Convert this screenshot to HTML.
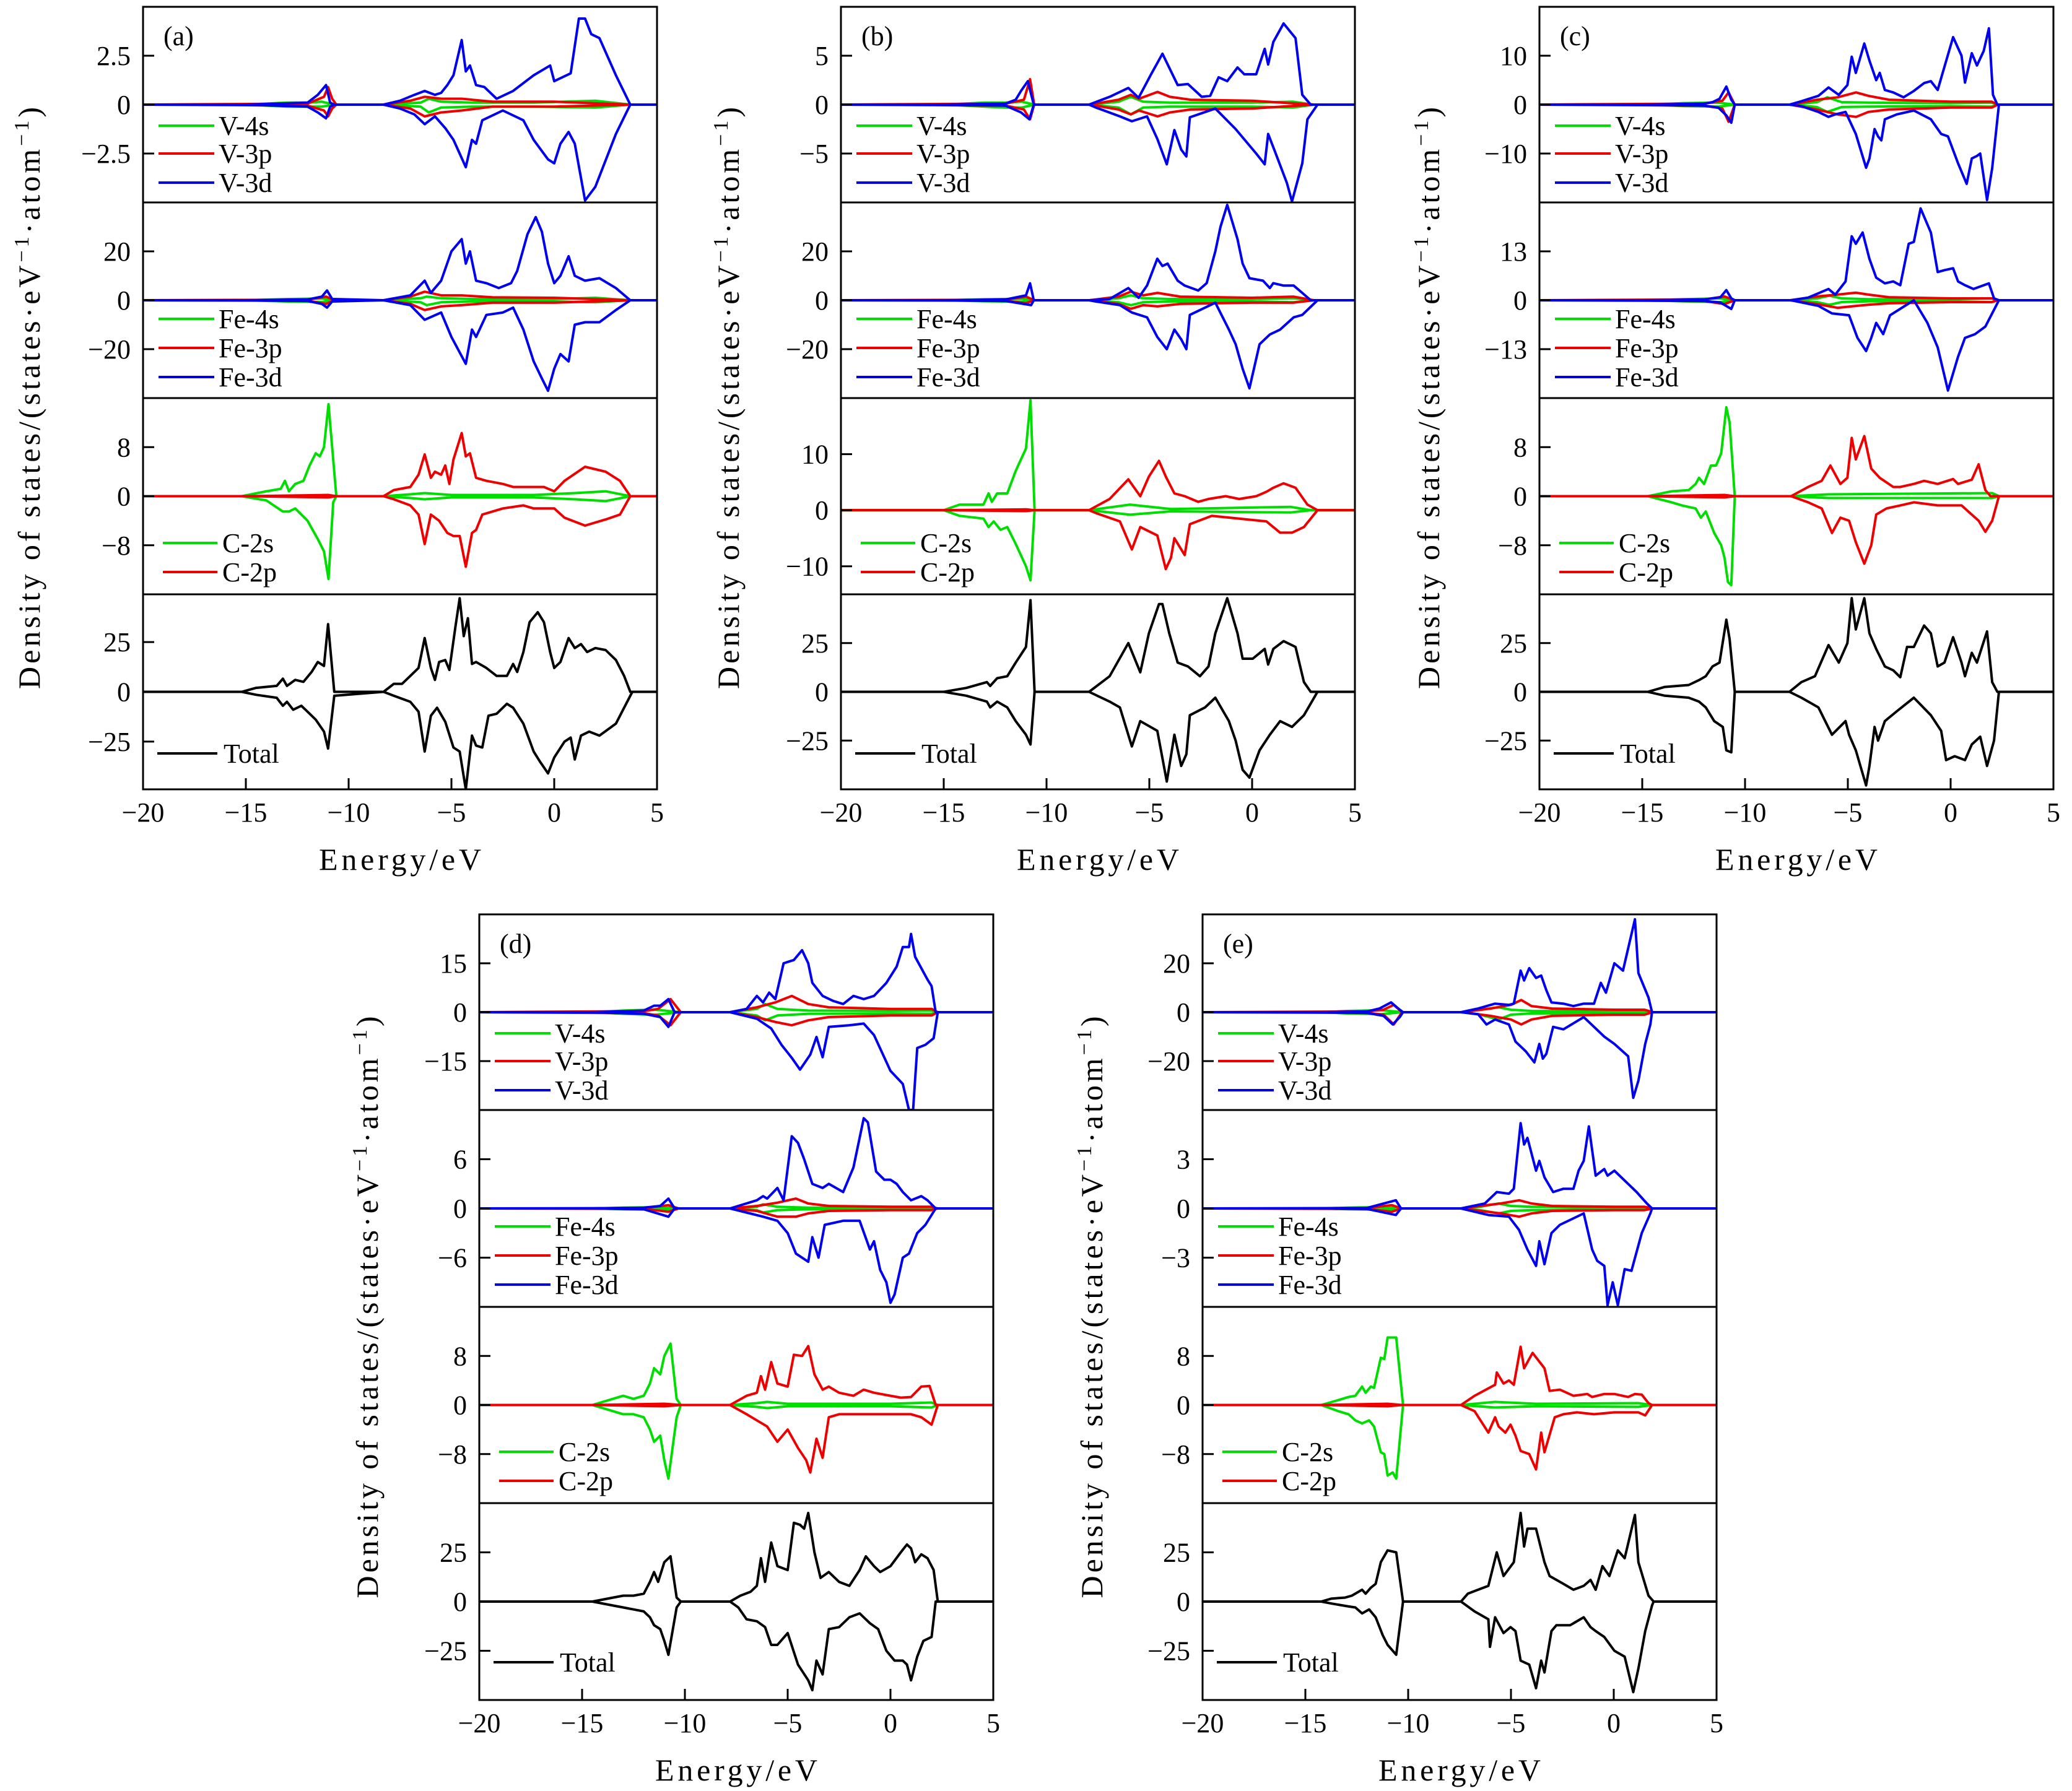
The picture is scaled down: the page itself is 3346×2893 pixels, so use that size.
<!DOCTYPE html>
<html><head><meta charset="utf-8"><style>
html,body{margin:0;padding:0;background:#fff;}
svg{display:block;font-family:"Liberation Serif",serif;}
</style></head><body>
<svg id="fig" width="3346" height="2893" viewBox="0 0 3346 2893" xmlns="http://www.w3.org/2000/svg"></svg>
<script>
// ---------- data: panel (a) ----------
const a_V4s_E=[-15,-13,-12,-11.3,-10.7,-8.3,-6.5,-6.1,-5.5,-4,-1,2,3.7];
const a_V4s_up=[0,0.1,0.1,0.15,0,0,0.1,0.3,0.15,0.1,0.1,0.2,0];
const a_V4s_dn=[0,0.1,0.1,0.1,0,0,0.1,0.4,0.15,0.1,0.1,0.15,0];
const a_V3p_E=[-12,-11.2,-11.0,-10.8,-10.6,-8.3,-7,-6.3,-5.5,-4.5,-3,0,3.7];
const a_V3p_up=[0.05,0.4,0.9,0.3,0,0,0.2,0.4,0.3,0.3,0.15,0.15,0];
const a_V3p_dn=[0.05,0.3,0.6,0.2,0,0,0.2,0.6,0.4,0.3,0.1,0.1,0];
const a_V3d_upE=[-15,-12,-11.5,-11.1,-10.9,-10.7,-8.3,-7.5,-6.8,-6.3,-5.8,-5.5,-5.2,-4.9,-4.5,-4.3,-4.1,-3.8,-3.4,-2.8,-2,-1,-0.2,0,0.8,1.2,1.5,1.8,2.2,3,3.7];
const a_V3d_up=[0,0.1,0.5,1.0,0.1,0,0,0.2,0.5,0.7,0.5,0.6,1.0,1.5,3.3,1.7,2.0,1.0,0.9,0.3,0.7,1.5,2.0,1.2,1.6,4.4,4.4,3.6,3.4,1.5,0];
const a_V3d_dnE=[-15,-12,-11.5,-11.1,-10.9,-10.7,-8.3,-7.5,-6.8,-6.3,-5.8,-5.3,-4.9,-4.6,-4.3,-4.0,-3.8,-3.5,-2.5,-1.5,-1,-0.3,0,0.3,0.7,1,1.5,2,3,3.7];
const a_V3d_dn=[0,0.1,0.4,0.7,0.1,0,0,0.2,0.5,1.0,0.6,1.2,1.8,2.5,3.2,1.8,2.0,0.8,0.3,0.8,1.8,2.8,3.0,2.0,1.4,2.0,4.9,4.2,1.5,0];
const a_Fe4s_E=[-15,-13,-11.3,-10.7,-8.3,-6.5,-6.2,-5.5,-4,0,2,3.7];
const a_Fe4s_up=[0,0.5,0.7,0,0,0.8,1.5,0.8,0.5,0.5,1,0];
const a_Fe4s_dn=[0,0.5,0.7,0,0,0.8,2,0.8,0.5,0.5,0.8,0];
const a_Fe3p_E=[-12,-11.1,-10.7,-8.3,-7,-6.3,-5.5,-4.5,-3,0,3.7];
const a_Fe3p_up=[0.2,1.5,0,0,1.5,3.5,2,2,1.2,1,0];
const a_Fe3p_dn=[0.2,1.5,0,0,1.5,4,2.5,2,1,1,0];
const a_Fe3d_upE=[-15,-12,-11.3,-11.05,-10.8,-8.3,-7,-6.3,-6.0,-5.5,-5.0,-4.5,-4.3,-4.1,-3.8,-3.3,-2.7,-2.1,-1.8,-1.3,-0.9,-0.6,-0.3,0,0.3,0.7,1.0,1.5,2.2,3,3.7];
const a_Fe3d_up=[0,0.3,1.5,4,0.5,0,2,8,3,8,20,25,15,20,8,7,5,7,12,27,34,28,15,7,10,18,10,8,9,5,0];
const a_Fe3d_dnE=[-15,-12,-11.3,-11.05,-10.8,-8.3,-7,-6.3,-5.5,-5.0,-4.3,-4.0,-3.8,-3.3,-2.5,-2,-1.5,-1,-0.6,-0.3,0,0.3,0.7,1,1.5,2.2,3,3.7];
const a_Fe3d_dn=[0,0.3,1.5,3,0.5,0,2,8,5,15,26,12,15,6,5,3,12,25,32,37,28,22,25,10,9,9,4,0];
const a_C2s_upE=[-15.2,-14,-13.3,-13.1,-12.9,-12.6,-12.2,-11.9,-11.6,-11.4,-11.2,-10.98,-10.6,-8.3,-7,-6.3,-5,-1,1,2.5,3.7];
const a_C2s_up=[0,0.8,1.2,2.5,0.8,2,2.5,5,7,6.5,8,15,0,0,0.3,0.5,0.2,0.2,0.5,0.8,0];
const a_C2s_dnE=[-15.2,-14,-13.2,-12.9,-12.6,-12,-11.5,-11.2,-10.98,-10.75,-10.6,-8.3,-7,-6.3,-5,-1,1,2.5,3.7];
const a_C2s_dn=[0,0.7,2.5,2.5,2,4,7,9,13.5,1,0,0,0.3,0.5,0.2,0.2,0.5,0.8,0];
const a_C2p_upE=[-15,-11,-10.6,-8.3,-7.8,-7,-6.6,-6.3,-6.0,-5.8,-5.5,-5.3,-5.1,-4.9,-4.5,-4.3,-4.1,-3.8,-3.3,-2.5,-2,-1,-0.5,0,0.5,1.5,2.5,3.2,3.7];
const a_C2p_up=[0,0.2,0,0,1,1.5,3.5,6.8,3,4,3.5,5,2,6,10.3,6.5,7,3,2.5,2,1.5,1.5,1.5,0.8,2.5,4.8,4,2.5,0];
const a_C2p_dnE=[-15,-11,-10.6,-8.3,-7.8,-7,-6.6,-6.3,-6,-5.6,-5.2,-4.9,-4.6,-4.3,-4.0,-3.8,-3.5,-2.5,-1.5,-1,0,0.5,1.5,2.5,3.2,3.7];
const a_C2p_dn=[0,0.2,0,0,0.5,1.5,3,7.8,3,4,6,6.5,6.5,11.5,6,5.5,3,2,1.5,2,2,3.5,4.8,3.8,3,0];
const a_Tot_upE=[-15.2,-14.5,-13.5,-13.2,-13,-12.6,-12.2,-11.8,-11.5,-11.2,-11,-10.7,-8.3,-7.8,-7.4,-7,-6.6,-6.3,-6,-5.8,-5.6,-5.3,-5.1,-4.8,-4.6,-4.4,-4.2,-4,-3.8,-3.3,-2.8,-2.3,-2,-1.8,-1.5,-1.2,-0.8,-0.5,-0.2,0,0.3,0.7,1,1.3,1.6,2,2.5,3,3.4,3.7];
const a_Tot_up=[0,2,3,6.6,3,6,5,10,15,13,34,0,0,4,4,8,12,27,12,6,15,16,11,33,47,28,37,14,15,12,8,8,14,10,20,35,40,35,20,12,15,27,22,24,20,22,21,16,8,0];
const a_Tot_dnE=[-15.2,-14.5,-13.5,-13.2,-13,-12.7,-12.3,-12,-11.6,-11.2,-11,-10.7,-8.3,-7.8,-7,-6.6,-6.3,-6,-5.7,-5.3,-4.9,-4.6,-4.3,-4.0,-3.8,-3.5,-3.2,-2.8,-2.3,-2,-1.5,-1,-0.7,-0.3,0,0.5,0.8,1,1.3,1.7,2.2,3,3.7,3.8];
const a_Tot_dn=[0,1.5,3,7,5,9,7,10,14,20,28.5,2,0,2,5,10,30,12,8,15,28,30,49,22,27,28,12,11,6,8,16,30,35,41,33,25,23,34,22,20,22,16,2,0];
// ---------- data: panel (b) ----------
const b_V4s_E=[-15,-13,-12,-11.2,-10.6,-7.9,-6.5,-5.9,-5.3,-4,0,2,3];
const b_V4s_up=[0,0.2,0.2,0.3,0,0,0.3,0.8,0.3,0.2,0.2,0.3,0];
const b_V4s_dn=[0,0.2,0.3,0.3,0,0,0.3,1.0,0.3,0.2,0.2,0.3,0];
const b_V3p_E=[-12,-11.1,-10.8,-10.6,-7.9,-6.5,-5.9,-5.5,-4.6,-4,-3,0,3];
const b_V3p_up=[0.1,0.5,2.6,0,0,0.5,1.0,0.6,1.3,0.8,0.5,0.4,0];
const b_V3p_dn=[0.1,0.5,1.5,0,0,0.5,1.0,0.6,1.2,0.8,0.5,0.4,0];
const b_V3d_upE=[-15,-12,-11.5,-11.24,-10.91,-10.62,-7.93,-6.93,-6.02,-5.52,-4.94,-4.36,-3.62,-3.12,-2.45,-2.04,-1.63,-1.21,-0.71,-0.38,0.2,0.61,0.78,1.03,1.53,2.11,2.44,2.85];
const b_V3d_up=[0,0.1,0.5,1.4,2.4,0,0,0.8,1.7,0.7,3,5.2,2,2.1,0.8,0.9,2.8,2.4,3.8,3.1,3.1,5.7,4.1,6.4,8.3,6.8,1,0];
const b_V3d_dnE=[-15,-12,-11.24,-10.83,-10.62,-7.93,-7.6,-6.43,-5.85,-5.11,-4.61,-4.15,-3.78,-3.45,-3.2,-3.03,-1.79,-0.8,0.2,0.61,0.78,1.11,1.69,1.94,2.44,2.69,3.18];
const b_V3d_dn=[0,0.1,0.8,1.5,0,0,0.3,1.2,1.7,1.2,3.5,6.1,2.6,4.6,5.3,1.3,0.4,2.5,5.0,6.1,3.0,4.8,8.0,9.9,6,1.5,0];
const b_Fe4s_E=[-15,-13,-11.2,-10.6,-7.9,-6.5,-5.9,-5.3,-4,0,2,3];
const b_Fe4s_up=[0,0.4,0.6,0,0,0.8,2,0.8,0.5,0.5,0.8,0];
const b_Fe4s_dn=[0,0.4,0.6,0,0,0.8,2,0.8,0.5,0.5,0.8,0];
const b_Fe3p_E=[-12,-11,-10.6,-7.9,-6.5,-5.9,-5.3,-4.6,-3.5,0,2,3];
const b_Fe3p_up=[0.2,1.5,0,0,1.5,3.5,2,3,1.5,1,1.5,0];
const b_Fe3p_dn=[0.2,1.2,0,0,1.5,3.5,2,2.5,1.5,1,1,0];
const b_Fe3d_upE=[-15,-12,-11,-10.8,-10.62,-7.93,-6.93,-6.02,-5.52,-5.11,-4.61,-4.36,-4.11,-3.62,-3.28,-2.62,-2.21,-1.79,-1.54,-1.21,-0.71,-0.46,-0.13,0.53,0.86,1.03,1.53,2.02,2.44,2.85];
const b_Fe3d_up=[0,0.3,2,6.9,0,0,0.5,5,1,6,17,14,15,8,6,4,7,20,30,39,25,15,9,8,5,7,6,6,3,0];
const b_Fe3d_dnE=[-15,-12,-10.75,-10.62,-7.93,-7.6,-6.43,-5.85,-5.11,-4.61,-4.15,-3.78,-3.45,-3.2,-3.03,-1.79,-1.13,-0.8,-0.46,-0.13,0.36,0.86,1.36,2.02,2.44,3.18];
const b_Fe3d_dn=[0,0.3,2,0,0,0.5,2,5,7,15,20,12,16,20,6,1,12,18,28,36,18,14,12,7,6,0];
const b_C2s_upE=[-15,-14.23,-13.07,-12.82,-12.66,-12.4,-11.91,-11.5,-11,-10.78,-10.58,-7.93,-5.94,-3.95,1.86,2.85];
const b_C2s_up=[0,1,1,3,1.5,3,3,7,11,19.6,0,0,1,0.2,0.6,0];
const b_C2s_dnE=[-15,-14.23,-13.07,-12.82,-12.57,-12.24,-11.91,-11.5,-11,-10.78,-10.58,-7.93,-5.94,-3.95,1.86,2.85];
const b_C2s_dn=[0,1,1.5,3,2,3.5,3,6,10,12.5,0,0,0.8,0.2,0.4,0];
const b_C2p_upE=[-15,-11,-10.6,-7.93,-6.93,-6.02,-5.44,-5.02,-4.53,-4.2,-3.78,-3.28,-2.62,-2.12,-1.29,-0.63,0.2,0.7,1.03,1.53,2.11,2.69,3.18];
const b_C2p_up=[0,0.15,0,0,2,5.5,2.5,6,8.8,6,3,2.5,1.5,2,2.5,2,2.5,3.3,4,4.8,4,1,0];
const b_C2p_dnE=[-15,-11,-10.6,-7.93,-7.6,-6.43,-5.85,-5.44,-4.61,-4.2,-3.95,-3.78,-3.28,-3.03,-1.96,-0.63,0.7,1.36,1.94,2.52,3.18];
const b_C2p_dn=[0,0.15,0,0,0.5,2,7,3,4.5,10.5,8.5,5,8,2.5,1,1.5,2,4,4,3,0];
const b_Tot_upE=[-15,-13.9,-12.9,-12.74,-12.4,-11.91,-11.5,-11,-10.78,-10.58,-7.93,-6.93,-6.02,-5.44,-5.02,-4.53,-4.36,-4.03,-3.62,-3.12,-2.54,-2.12,-1.79,-1.21,-0.71,-0.46,0.03,0.61,0.78,1.03,1.53,2.11,2.52,2.85];
const b_Tot_up=[0,2,5,3,7,8,15,23,47,0,0,8,25,10,30,45,45,30,15,13,8,13,30,48,30,17,17,22,14,22,26,23,5,0];
const b_Tot_dnE=[-15,-13.9,-12.9,-12.74,-12.4,-11.91,-11.5,-11,-10.78,-10.58,-7.93,-6.93,-6.43,-5.85,-5.44,-4.61,-4.15,-3.78,-3.45,-3.2,-3.03,-2.29,-1.79,-1.13,-0.8,-0.46,-0.13,0.36,0.86,1.36,1.94,2.52,3.18];
const b_Tot_dn=[0,2,5,8,5,8,15,22,27,0,0,5,8,28,15,20,46,22,38,32,12,8,3,15,25,40,44,30,22,15,18,12,0];
// ---------- data: panel (c) ----------
const c_V4s_E=[-14.7,-13,-11.3,-10.5,-7.8,-6.5,-6,-5.3,-4,0,2,2.3];
const c_V4s_up=[0,0.3,0.4,0,0,0.5,1.5,0.5,0.4,0.3,0.4,0];
const c_V4s_dn=[0,0.3,0.4,0,0,0.5,1.5,0.5,0.4,0.3,0.4,0];
const c_V3p_E=[-12,-11.1,-10.8,-10.5,-7.8,-6.5,-5.5,-4.6,-4,-3,0,2,2.3];
const c_V3p_up=[0.2,0.8,2.5,0,0,1,1.5,2.5,1.8,1,0.6,0.6,0];
const c_V3p_dn=[0.2,0.8,3.5,0,0,1,2,2.5,1.5,1,0.6,0.6,0];
const c_V3d_upE=[-14.7,-12,-11.58,-11.24,-10.91,-10.67,-10.5,-7.84,-7.26,-6.43,-5.94,-5.44,-5.02,-4.81,-4.61,-4.2,-3.95,-3.62,-3.45,-3.2,-2.79,-2.29,-1.79,-1.29,-0.96,-0.63,0.12,0.53,0.7,1.03,1.28,1.61,1.86,2.06,2.27];
const c_V3d_up=[0,0.2,0.5,1.2,3.7,1,0,0,0.7,1.8,3.5,2,4,9.8,6.5,12.5,9,5,6.5,3,2.5,1.5,2.8,4.4,4.8,3,13.8,10,4.5,10.5,8,11,15.6,2,0];
const c_V3d_dnE=[-14.7,-12,-11.3,-10.91,-10.67,-10.5,-7.84,-7.26,-6.43,-5.94,-5.61,-5.11,-4.61,-4.11,-3.95,-3.7,-3.53,-3.37,-3.2,-2.62,-1.79,-0.96,-0.46,-0.13,0.36,0.78,1.03,1.28,1.44,1.77,2.02,2.35];
const c_V3d_dn=[0,0.2,0.6,2.2,3.7,0,0,0.3,1.5,2.5,2,1.5,6,12.9,11,5,6.5,7.3,3,2,1.2,3,6,6.5,12,16.2,11,10.5,10,19.5,13,0];
const c_Fe4s_E=[-14.7,-13,-11.2,-10.5,-7.8,-6.5,-5.9,-5.3,-4,0,2,2.3];
const c_Fe4s_up=[0,0.3,0.5,0,0,0.5,1.2,0.5,0.3,0.3,0.5,0];
const c_Fe4s_dn=[0,0.3,0.5,0,0,0.5,1.2,0.5,0.3,0.3,0.5,0];
const c_Fe3p_E=[-12,-11,-10.5,-7.8,-6.5,-5.5,-4.6,-4,-3,0,2,2.3];
const c_Fe3p_up=[0.2,1,0,0,1,1.5,2,1.5,0.8,0.5,0.5,0];
const c_Fe3p_dn=[0.2,1,0,0,1,2,1.5,1.2,0.8,0.5,0.5,0];
const c_Fe3d_upE=[-14.7,-12,-11.2,-10.91,-10.67,-10.5,-7.76,-6.93,-5.94,-5.61,-5.11,-4.81,-4.61,-4.28,-3.95,-3.62,-3.2,-2.79,-2.45,-2.04,-1.79,-1.46,-0.96,-0.63,-0.3,0.12,0.36,0.7,1.11,1.86,2.11,2.35];
const c_Fe3d_up=[0,0.2,0.8,2.7,0.5,0,0,0.7,3,1.5,5,17,15,18,11,6,4.5,5,4,15,15.5,24.4,18,7.5,8,8.5,5,4,3,4.5,0.5,0];
const c_Fe3d_dnE=[-14.7,-12,-11.2,-10.67,-10.5,-7.76,-6.43,-5.77,-4.94,-4.53,-4.11,-3.86,-3.62,-3.28,-2.95,-1.79,-1.13,-0.63,-0.13,0.36,0.7,1.19,1.69,2.35];
const c_Fe3d_dn=[0,0.2,0.6,2.3,0,0,1.5,3.5,4,10,13.5,10,6,9,4,0,6,12.5,24,15,10,9,7,0];
const c_C2s_upE=[-14.73,-13.57,-12.74,-12.4,-12.24,-11.99,-11.66,-11.41,-11.16,-10.91,-10.75,-10.5,-7.84,-5.94,2.02,2.35];
const c_C2s_up=[0,0.8,1,2,3,2,5,5,7,14.5,12,0,0,0.3,0.5,0];
const c_C2s_dnE=[-14.73,-13.57,-13.07,-12.4,-12.15,-11.91,-11.5,-11.16,-11,-10.83,-10.67,-10.5,-7.84,-5.94,2.02,2.35];
const c_C2s_dn=[0,1,1.5,2,3.5,2.5,6,8,10,14,14.5,0,0,0.3,0.3,0];
const c_C2p_upE=[-14.7,-11,-10.5,-7.76,-6.93,-6.27,-5.85,-5.36,-5.02,-4.81,-4.61,-4.2,-3.86,-3.45,-2.79,-2.45,-1.79,-1.29,-0.63,0.12,0.36,1.03,1.36,1.69,1.94];
const c_C2p_up=[0,0.2,0,0,1.5,2.5,5,2,3,9.5,6,9.8,4.5,3,1.5,1.5,2,2.5,2,2.8,2,2.7,5.2,1,0];
const c_C2p_dnE=[-14.7,-11,-10.5,-7.76,-6.93,-6.27,-5.77,-5.36,-4.94,-4.61,-4.2,-3.86,-3.62,-3.12,-2.45,-1.79,-0.63,0.53,1.36,1.69,2.02,2.35];
const c_C2p_dn=[0,0.2,0,0,1,2,6,3.5,4,7.5,11,8,3,2,1.5,1,1.5,1.5,4,5.8,4,0];
const c_Tot_upE=[-14.73,-13.9,-12.74,-12.24,-11.91,-11.58,-11.24,-10.91,-10.75,-10.5,-7.84,-7.26,-6.6,-5.94,-5.44,-5.02,-4.81,-4.61,-4.2,-3.95,-3.62,-3.2,-2.79,-2.45,-2.12,-1.79,-1.29,-0.96,-0.63,-0.3,0.12,0.53,0.7,1.03,1.28,1.77,2.02,2.27];
const c_Tot_up=[0,2.5,3.5,6,8,13,15,37,27,0,0,5,8,24,15,25,48,32,48,30,22,13,11,7.5,23,23,34,30,13,15,28,15,8,20,15,31,5,0];
const c_Tot_dnE=[-14.73,-13.9,-12.74,-12.24,-11.91,-11.5,-11.08,-10.91,-10.67,-10.5,-7.84,-7.26,-6.43,-5.77,-5.11,-4.94,-4.61,-4.11,-3.95,-3.7,-3.53,-3.2,-2.62,-1.79,-0.96,-0.46,-0.22,0.2,0.7,1.03,1.44,1.77,2.11,2.35];
const c_Tot_dn=[0,2,3,5,8,15,18,30,31,0,0,3,8,22,15,22,30,48,38,18,25,15,10,3,12,20,35,33,35,27,23,38,25,0];
// ---------- data: panel (d) ----------
const d_V4s_E=[-14.5,-13,-11.5,-10.2,-7.8,-6.5,-6.1,-5.5,-4,0,2,2.3];
const d_V4s_up=[0,0.5,0.8,0,0,1,2.5,1,0.5,0.4,0.5,0];
const d_V4s_dn=[0,0.5,0.8,0,0,1,2.5,1,0.5,0.4,0.5,0];
const d_V3p_E=[-12,-11.3,-10.7,-10.2,-7.8,-6.5,-5.6,-4.8,-4,-3,0,2,2.3];
const d_V3p_up=[0.3,1,4,0,0,1.5,3,5,2.5,1.5,1,1,0];
const d_V3p_dn=[0.3,1,4,0,0,1.5,3,4,2.5,1.5,1,1,0];
const d_V3d_upE=[-14.5,-12,-11.5,-11.2,-10.8,-10.5,-7.8,-7,-6.5,-6.2,-5.9,-5.6,-5.2,-4.7,-4.3,-4,-3.8,-3.3,-2.8,-2.3,-1.8,-1.3,-0.8,-0.2,0.3,0.6,0.9,1.0,1.2,1.8,2.0,2.2];
const d_V3d_up=[0,0.5,2,2,4,0,0,1,5,3,6,4,15,16,19,15,9,5,3.5,2.5,5,4,5,9,14,20,20,24,17,10,8,0];
const d_V3d_dnE=[-14.5,-12,-11.2,-10.8,-10.5,-7.8,-6.5,-5.8,-5.3,-4.8,-4.4,-3.9,-3.6,-3.3,-3,-2,-1.3,-0.8,0,0.6,0.9,1.1,1.3,1.7,2.1,2.3];
const d_V3d_dn=[0,0.5,1.5,4.5,0,0,2,5,10,14,17.6,13,7.6,13.8,4.5,4,3.5,7,18,22,30,30,11,10,8,0];
const d_Fe4s_E=[-14.5,-13,-11.3,-10.3,-7.8,-6.5,-6.2,-5.5,-4,0,2,2.3];
const d_Fe4s_up=[0,0.1,0.15,0,0,0.2,0.5,0.2,0.1,0.1,0.1,0];
const d_Fe4s_dn=[0,0.1,0.15,0,0,0.2,0.5,0.2,0.1,0.1,0.1,0];
const d_Fe3p_E=[-12,-10.8,-10.3,-7.8,-6.5,-5.5,-4.6,-4,-3,0,2,2.3];
const d_Fe3p_up=[0.05,0.4,0,0,0.3,0.7,1.2,0.6,0.3,0.2,0.2,0];
const d_Fe3p_dn=[0.05,0.4,0,0,0.3,1,1,0.6,0.3,0.2,0.2,0];
const d_Fe3d_upE=[-14.5,-12,-11.2,-10.8,-10.5,-7.8,-6.5,-6.2,-6,-5.5,-5.2,-4.8,-4.5,-4.2,-3.8,-3.3,-3,-2.3,-1.8,-1.3,-1.1,-0.7,-0.3,0,0.3,0.6,1,1.5,1.8,2.2];
const d_Fe3d_up=[0,0.1,0.3,1.2,0,0,1,1.5,1.2,2.5,1,8.8,8,6,3,2.5,3,2,5,11,10.5,4.5,3.5,3.5,3,2,1,1.5,1,0];
const d_Fe3d_dnE=[-14.5,-12,-10.8,-10.5,-7.8,-6.2,-5.5,-5,-4.6,-4,-3.8,-3.5,-3.2,-2.3,-1.5,-1,-0.8,-0.5,-0.2,0,0.2,0.6,0.9,1.3,1.7,2.2];
const d_Fe3d_dn=[0,0.1,1,0,0,1,1.5,3,5.5,6.5,3.5,6,2,1.5,1.5,5,4,7.5,9,11.5,10.5,6,5.5,3,2,0];
const d_C2s_upE=[-14.5,-13.5,-13,-12.5,-12,-11.7,-11.5,-11.2,-11,-10.7,-10.4,-10.2,-7.8,-6.5,-6,-5,0,2,2.3];
const d_C2s_up=[0,1,1.5,1,1.5,3.5,6,5,8,10,1,0,0,0.3,0.5,0.2,0.2,0.4,0];
const d_C2s_dnE=[-14.5,-13.5,-13,-12.5,-12,-11.7,-11.5,-11.2,-11,-10.8,-10.4,-10.2,-7.8,-6.5,-6,-5,0,2,2.3];
const d_C2s_dn=[0,1,1.5,1.5,2,4,6,5,9,12,2,0,0,0.3,0.5,0.2,0.2,0.4,0];
const d_C2p_upE=[-14.5,-11,-10.2,-7.8,-7,-6.5,-6.3,-6.1,-5.8,-5.5,-5.0,-4.7,-4.3,-4.0,-3.7,-3.3,-3,-2.5,-1.8,-1.3,-0.8,0,0.5,1,1.5,1.9,2.2];
const d_C2p_up=[0,0.2,0,0,1.5,2,4.7,2.5,7,3.5,3,8.2,8,9.6,5,2.5,3,2,1.5,2.5,2,1.5,1.2,1.3,3,3.1,0];
const d_C2p_dnE=[-14.5,-11,-10.2,-7.8,-7,-6.5,-6,-5.5,-5,-4.5,-4.1,-3.9,-3.6,-3.3,-3,-2.5,-2,-1,0,1,1.5,2,2.3];
const d_C2p_dn=[0,0.2,0,0,1.5,2.5,3.5,6,4,7,9,11,5.5,8.6,2,1.5,1.5,1.5,1.5,1.5,2,3.2,0];
const d_Tot_upE=[-14.5,-13.5,-13,-12.5,-12,-11.7,-11.5,-11.3,-11,-10.7,-10.4,-10.2,-7.8,-7.3,-6.8,-6.5,-6.3,-6.1,-5.8,-5.5,-5,-4.7,-4.4,-4.2,-4.0,-3.7,-3.4,-3,-2.5,-2,-1.5,-1.2,-0.8,-0.5,0,0.5,0.8,1.0,1.2,1.5,1.8,2.1,2.3];
const d_Tot_up=[0,2,3,3,4,10,15,10,20,23,2,0,0,3,5,8,22,10,30,18,16,40,39,37,45,25,12,15,10,8,16,23,18,15,18,25,29,27,20,24,22,16,0];
const d_Tot_dnE=[-14.5,-13.5,-13,-12.5,-12,-11.7,-11.5,-11.2,-11,-10.8,-10.4,-10.2,-7.8,-7.4,-7,-6.5,-6.1,-5.8,-5.5,-5,-4.5,-4,-3.8,-3.6,-3.3,-3,-2.5,-2,-1.5,-1,-0.6,-0.2,0.2,0.6,0.8,1.0,1.3,1.6,2.0,2.2];
const d_Tot_dn=[0,2,3,4,5,8,12,14,20,27,3,0,0,3,9,10,13,22,22,16,32,40,45,30,37,14,13,8,6,11,14,25,30,30,32,40,28,20,18,0];
// ---------- data: panel (e) ----------
const e_V4s_E=[-14.2,-13,-11.3,-10.3,-7.4,-6.5,-5.6,-5,-4,0,1.5,1.9];
const e_V4s_up=[0,0.5,0.8,0,0,1,2,1,0.5,0.4,0.5,0];
const e_V4s_dn=[0,0.5,0.8,0,0,1,3,1,0.5,0.4,0.5,0];
const e_V3p_E=[-12,-11.2,-10.7,-10.3,-7.4,-6,-5,-4.5,-4,-3,0,1.5,1.9];
const e_V3p_up=[0.3,1,3,0,0,1.5,3,5,2.5,1.5,1,1,0];
const e_V3p_dn=[0.3,1,5,0,0,1.5,3,5,3,1.5,1,1,0];
const e_V3d_upE=[-14.2,-12,-11.4,-10.83,-10.41,-10.25,-7.43,-6.6,-5.77,-5.1,-4.86,-4.53,-4.36,-4.11,-3.78,-3.53,-3.28,-3.03,-2.45,-1.96,-1.46,-0.96,-0.63,-0.38,0.03,0.45,1.03,1.2,1.69,1.86];
const e_V3d_up=[0,0.3,1.5,4,1,0,0,1.5,3.5,3,3.5,17,13,18,14,15,9,4,3.5,2.5,3.5,3.5,12,8,20,17,38,16,6,0];
const e_V3d_dnE=[-14.2,-12,-11.2,-10.75,-10.41,-10.25,-7.43,-6.6,-6.19,-5.77,-5.1,-4.78,-4.28,-3.86,-3.62,-3.45,-3.28,-2.95,-2.45,-1.46,-0.96,-0.46,0.03,0.7,0.95,1.2,1.53,1.78,1.86];
const e_V3d_dn=[0,0.3,1.5,5,2,0,0,0.8,5,3,5,12,16,20.5,13,19,17,6,7,2,6,10,13,18,35,28,13,5,0];
const e_Fe4s_E=[-14.2,-13,-11.3,-10.3,-7.4,-6.5,-5.6,-5,-4,0,1.5,1.9];
const e_Fe4s_up=[0,0.05,0.08,0,0,0.1,0.3,0.15,0.1,0.05,0.05,0];
const e_Fe4s_dn=[0,0.05,0.08,0,0,0.1,0.3,0.15,0.1,0.05,0.05,0];
const e_Fe3p_E=[-12,-10.8,-10.3,-7.4,-6.5,-5.5,-4.6,-4,-3,0,1.5,1.9];
const e_Fe3p_up=[0.03,0.2,0,0,0.15,0.3,0.5,0.3,0.15,0.1,0.1,0];
const e_Fe3p_dn=[0.03,0.2,0,0,0.15,0.3,0.5,0.3,0.15,0.1,0.1,0];
const e_Fe3d_upE=[-14.2,-12,-10.6,-10.35,-7.43,-6.27,-5.69,-5.1,-4.86,-4.53,-4.36,-4.2,-3.78,-3.62,-3.37,-2.95,-2.45,-1.96,-1.71,-1.46,-1.21,-0.88,-0.46,-0.3,0.03,0.7,1.11,1.61,1.86];
const e_Fe3d_up=[0,0.03,0.5,0,0,0.3,1,0.9,1.2,5.2,3.9,4.3,2.3,2.9,1.9,1,1.2,1.2,2.3,2.9,5,2,2.4,2,2.3,1.5,1,0.3,0];
const e_Fe3d_dnE=[-14.2,-12,-10.6,-10.35,-7.43,-6.1,-5.1,-4.61,-4.2,-3.78,-3.62,-3.37,-3.03,-2.62,-1.46,-1.05,-0.8,-0.46,-0.3,-0.05,0.2,0.53,0.86,1.36,1.78,1.86];
const e_Fe3d_dn=[0,0.03,0.4,0,0,0.4,0.5,1.3,2.5,3.5,2,3.4,1.5,1,0.3,2.5,3.2,3.5,5.9,4.5,5.9,3.7,3.8,1.5,0.3,0];
const e_C2s_upE=[-14.23,-13.4,-12.9,-12.57,-12.24,-12.07,-11.82,-11.66,-11.33,-11.16,-11,-10.58,-10.25,-7.43,-5.77,-3.78,1.2,1.86];
const e_C2s_up=[0,0.8,1.3,1.5,3,2,3,2.8,7.7,7.5,11,11,0,0,0.5,0.2,0.3,0];
const e_C2s_dnE=[-14.23,-13.4,-12.9,-12.57,-12.24,-11.9,-11.66,-11.33,-11.16,-11,-10.75,-10.58,-10.25,-7.43,-5.77,-3.78,1.2,1.86];
const e_C2s_dn=[0,1,1.5,2.5,3,2.5,3.5,7.7,8,11.5,11,12,0,0,0.4,0.2,0.3,0];
const e_C2p_upE=[-14.2,-11,-10.3,-7.43,-6.77,-5.77,-5.69,-5.36,-5.1,-4.86,-4.53,-4.36,-3.95,-3.37,-3.12,-2.62,-1.96,-1.29,-1.05,-0.46,0.03,0.7,1.03,1.36,1.69,1.86];
const e_C2p_up=[0,0.2,0,0,1.5,3.3,5.3,3.5,4,3.3,9.5,6,8.5,6,2.3,2.5,1.5,1.8,1.3,1.8,1.8,1.3,1.8,1.7,0.3,0];
const e_C2p_dnE=[-14.2,-11,-10.3,-7.43,-6.77,-6.1,-5.77,-5.6,-5.27,-5.02,-4.78,-4.53,-4.11,-3.78,-3.53,-3.37,-2.87,-2.45,-1.79,-0.96,0.03,1.2,1.53,1.86];
const e_C2p_dn=[0,0.2,0,0,1,4.5,2,3.5,4.5,3.2,5,7.5,8,10.5,4.5,7.7,2,1.5,1.2,1.5,1.2,1.2,1.7,0];
const e_Tot_upE=[-14.23,-13.73,-13.07,-12.74,-12.24,-12.07,-11.82,-11.58,-11.33,-11,-10.58,-10.25,-7.43,-7.1,-6.6,-6.1,-5.69,-5.36,-4.86,-4.53,-4.36,-4.2,-3.78,-3.37,-3.12,-2.45,-1.96,-1.46,-1.13,-0.88,-0.55,-0.21,0.2,0.53,1.03,1.2,1.69,1.94];
const e_Tot_up=[0,1.5,2,3,6,4,7,9,20,26,25,0,0,4,6,8,25,13,20,45,28,37,37,20,13,9,6,8,11,6,18,13,26,22,44,20,3,0];
const e_Tot_dnE=[-14.23,-13.73,-12.9,-12.57,-12.24,-11.9,-11.58,-11.24,-11,-10.58,-10.25,-7.43,-6.77,-6.1,-6.02,-5.77,-5.36,-5.02,-4.78,-4.53,-4.11,-3.78,-3.53,-3.37,-3.03,-2.79,-2.12,-1.46,-1.13,-0.88,-0.46,0.03,0.53,0.95,1.2,1.53,1.86,1.94];
const e_Tot_dn=[0,1,2.5,3,6,4,8,17,22,27,0,0,5,9,23,8,16,13,15,30,32,44,30,36,15,12,12,8,13,15,18,25,28,46,34,15,2,0];
// ---------- axis data ----------
const xTickValues=[-20,-15,-10,-5,0,5];
const xTickLabels=["\u221220","\u221215","\u221210","\u22125","0","5"];
const a_yTicks=[[-2.5,0,2.5],[-20,0,20],[-8,0,8],[-25,0,25]];
const b_yTicks=[[-5,0,5],[-20,0,20],[-10,0,10],[-25,0,25]];
const c_yTicks=[[-10,0,10],[-13,0,13],[-8,0,8],[-25,0,25]];
const d_yTicks=[[-15,0,15],[-6,0,6],[-8,0,8],[-25,0,25]];
const e_yTicks=[[-20,0,20],[-3,0,3],[-8,0,8],[-25,0,25]];
const a_yMax=[5,40,16,49], a_yMin=[-5,-40,-16,-49];
const b_yMax=[10,40,20,50], b_yMin=[-10,-40,-15,-50];
const c_yMax=[20,26,16,50], c_yMin=[-20,-26,-16,-50];
const d_yMax=[30,12,16,50], d_yMin=[-30,-12,-16,-50];
const e_yMax=[40,6,16,50], e_yMin=[-40,-6,-16,-50];

// ---------- layout ----------
const NS="http://www.w3.org/2000/svg";
const svg=document.getElementById('fig');
const GREEN="#00dd00", RED="#ee0000", BLUE="#0000ee", BLACK="#000";
const TOP_ROW=[11,327,643,960,1275], BOT_ROW=[1477,1793,2111,2428,2746];
const panels=[
 {id:'a',x:231,w:830,rows:TOP_ROW,ticks:a_yTicks,ymax:a_yMax,ymin:a_yMin,ylab:64},
 {id:'b',x:1358,w:830,rows:TOP_ROW,ticks:b_yTicks,ymax:b_yMax,ymin:b_yMin,ylab:1193},
 {id:'c',x:2486,w:830,rows:TOP_ROW,ticks:c_yTicks,ymax:c_yMax,ymin:c_yMin,ylab:2324},
 {id:'d',x:774,w:830,rows:BOT_ROW,ticks:d_yTicks,ymax:d_yMax,ymin:d_yMin,ylab:610},
 {id:'e',x:1942,w:830,rows:BOT_ROW,ticks:e_yTicks,ymax:e_yMax,ymin:e_yMin,ylab:1780}
];
const series={
 a:[[['V-4s',GREEN,a_V4s_E,a_V4s_up,a_V4s_E,a_V4s_dn],['V-3p',RED,a_V3p_E,a_V3p_up,a_V3p_E,a_V3p_dn],['V-3d',BLUE,a_V3d_upE,a_V3d_up,a_V3d_dnE,a_V3d_dn]],
    [['Fe-4s',GREEN,a_Fe4s_E,a_Fe4s_up,a_Fe4s_E,a_Fe4s_dn],['Fe-3p',RED,a_Fe3p_E,a_Fe3p_up,a_Fe3p_E,a_Fe3p_dn],['Fe-3d',BLUE,a_Fe3d_upE,a_Fe3d_up,a_Fe3d_dnE,a_Fe3d_dn]],
    [['C-2s',GREEN,a_C2s_upE,a_C2s_up,a_C2s_dnE,a_C2s_dn],['C-2p',RED,a_C2p_upE,a_C2p_up,a_C2p_dnE,a_C2p_dn]],
    [['Total',BLACK,a_Tot_upE,a_Tot_up,a_Tot_dnE,a_Tot_dn]]],
 b:[[['V-4s',GREEN,b_V4s_E,b_V4s_up,b_V4s_E,b_V4s_dn],['V-3p',RED,b_V3p_E,b_V3p_up,b_V3p_E,b_V3p_dn],['V-3d',BLUE,b_V3d_upE,b_V3d_up,b_V3d_dnE,b_V3d_dn]],
    [['Fe-4s',GREEN,b_Fe4s_E,b_Fe4s_up,b_Fe4s_E,b_Fe4s_dn],['Fe-3p',RED,b_Fe3p_E,b_Fe3p_up,b_Fe3p_E,b_Fe3p_dn],['Fe-3d',BLUE,b_Fe3d_upE,b_Fe3d_up,b_Fe3d_dnE,b_Fe3d_dn]],
    [['C-2s',GREEN,b_C2s_upE,b_C2s_up,b_C2s_dnE,b_C2s_dn],['C-2p',RED,b_C2p_upE,b_C2p_up,b_C2p_dnE,b_C2p_dn]],
    [['Total',BLACK,b_Tot_upE,b_Tot_up,b_Tot_dnE,b_Tot_dn]]],
 c:[[['V-4s',GREEN,c_V4s_E,c_V4s_up,c_V4s_E,c_V4s_dn],['V-3p',RED,c_V3p_E,c_V3p_up,c_V3p_E,c_V3p_dn],['V-3d',BLUE,c_V3d_upE,c_V3d_up,c_V3d_dnE,c_V3d_dn]],
    [['Fe-4s',GREEN,c_Fe4s_E,c_Fe4s_up,c_Fe4s_E,c_Fe4s_dn],['Fe-3p',RED,c_Fe3p_E,c_Fe3p_up,c_Fe3p_E,c_Fe3p_dn],['Fe-3d',BLUE,c_Fe3d_upE,c_Fe3d_up,c_Fe3d_dnE,c_Fe3d_dn]],
    [['C-2s',GREEN,c_C2s_upE,c_C2s_up,c_C2s_dnE,c_C2s_dn],['C-2p',RED,c_C2p_upE,c_C2p_up,c_C2p_dnE,c_C2p_dn]],
    [['Total',BLACK,c_Tot_upE,c_Tot_up,c_Tot_dnE,c_Tot_dn]]],
 d:[[['V-4s',GREEN,d_V4s_E,d_V4s_up,d_V4s_E,d_V4s_dn],['V-3p',RED,d_V3p_E,d_V3p_up,d_V3p_E,d_V3p_dn],['V-3d',BLUE,d_V3d_upE,d_V3d_up,d_V3d_dnE,d_V3d_dn]],
    [['Fe-4s',GREEN,d_Fe4s_E,d_Fe4s_up,d_Fe4s_E,d_Fe4s_dn],['Fe-3p',RED,d_Fe3p_E,d_Fe3p_up,d_Fe3p_E,d_Fe3p_dn],['Fe-3d',BLUE,d_Fe3d_upE,d_Fe3d_up,d_Fe3d_dnE,d_Fe3d_dn]],
    [['C-2s',GREEN,d_C2s_upE,d_C2s_up,d_C2s_dnE,d_C2s_dn],['C-2p',RED,d_C2p_upE,d_C2p_up,d_C2p_dnE,d_C2p_dn]],
    [['Total',BLACK,d_Tot_upE,d_Tot_up,d_Tot_dnE,d_Tot_dn]]],
 e:[[['V-4s',GREEN,e_V4s_E,e_V4s_up,e_V4s_E,e_V4s_dn],['V-3p',RED,e_V3p_E,e_V3p_up,e_V3p_E,e_V3p_dn],['V-3d',BLUE,e_V3d_upE,e_V3d_up,e_V3d_dnE,e_V3d_dn]],
    [['Fe-4s',GREEN,e_Fe4s_E,e_Fe4s_up,e_Fe4s_E,e_Fe4s_dn],['Fe-3p',RED,e_Fe3p_E,e_Fe3p_up,e_Fe3p_E,e_Fe3p_dn],['Fe-3d',BLUE,e_Fe3d_upE,e_Fe3d_up,e_Fe3d_dnE,e_Fe3d_dn]],
    [['C-2s',GREEN,e_C2s_upE,e_C2s_up,e_C2s_dnE,e_C2s_dn],['C-2p',RED,e_C2p_upE,e_C2p_up,e_C2p_dnE,e_C2p_dn]],
    [['Total',BLACK,e_Tot_upE,e_Tot_up,e_Tot_dnE,e_Tot_dn]]]
};
const legendRows=[[192,237,284],[188,235,282],[234,281],[257]];
const legendLine=[[25,115,122],[25,115,122],[32,120,128],[23,120,130]];

function mk(tag,attrs,parent){const e=document.createElementNS(NS,tag);for(const k in attrs)e.setAttribute(k,attrs[k]);(parent||svg).appendChild(e);return e;}
function fmt(v){return v<0?'\u2212'+(-v):String(v);}

panels.forEach(function(p){
  const g=mk('g',{});
  
  
  const xs=function(E){return p.x+(E+20)/25*p.w;};
  for(let s=0;s<4;s++){
    const top=p.rows[s], bot=p.rows[s+1], h=bot-top;
    const ymax=p.ymax[s], ymin=p.ymin[s];
    const ys=function(v){return top+(ymax-v)/(ymax-ymin)*h;};
    const sg=mk('g',{},g);
    
    
    const cid='clip-'+p.id+s;
    const cp=mk('clipPath',{id:cid},sg);
    mk('rect',{x:p.x,y:top,width:p.w,height:h},cp);
    const cg=mk('g',{'clip-path':'url(#'+cid+')'},sg);
    series[p.id][s].forEach(function(sr,k){
      const name=sr[0],col=sr[1];
      [[sr[2],sr[3],1],[sr[4],sr[5],-1]].forEach(function(dd){
        const E=dd[0],V=dd[1],sg2=dd[2];
        const n=Math.min(E.length,V.length);
        let pts=[xs(-20)+','+ys(0)];
        for(let i=0;i<n;i++)pts.push(xs(E[i]).toFixed(1)+','+ys(sg2*V[i]).toFixed(1));
        pts.push(xs(5)+','+ys(0));
        const pl=mk('polyline',{points:pts.join(' '),fill:'none',stroke:col,'stroke-width':4,'stroke-linejoin':'round'},cg);
        
        
      });
      const ly=top+legendRows[s][k], L=legendLine[s];
      const ln=mk('line',{x1:p.x+L[0],x2:p.x+L[1],y1:ly,y2:ly,stroke:col,'stroke-width':4},sg);
      
      
      const lt=mk('text',{x:p.x+L[2],y:ly+15,'font-size':44},sg);
      lt.textContent=name;
      
      
    });
    p.ticks[s].forEach(function(t){
      const y=ys(t);
      const tk=mk('line',{x1:p.x,x2:p.x+18,y1:y,y2:y,stroke:'#000','stroke-width':3},sg);
      
      
      const tl=mk('text',{x:p.x-20,y:y+15,'font-size':44,'text-anchor':'end'},sg);
      tl.textContent=fmt(t);
      
      
    });
    const fr=mk('rect',{x:p.x,y:top,width:p.w,height:h,fill:'none',stroke:'#000','stroke-width':3},sg);
    
    
  }
  const bottom=p.rows[4];
  xTickValues.forEach(function(v,i){
    const x=xs(v);
    if(i>0&&i<xTickValues.length-1){
      const tk=mk('line',{x1:x,x2:x,y1:bottom,y2:bottom-18,stroke:'#000','stroke-width':3},g);
      
      
    }
    const tl=mk('text',{x:x,y:bottom+52,'font-size':44,'text-anchor':'middle'},g);
    tl.textContent=xTickLabels[i];
    
    
  });
  const xl=mk('text',{x:p.x+p.w/2,y:bottom+130,'font-size':50,'text-anchor':'middle',textLength:262,lengthAdjust:'spacing'},g);
  xl.textContent='Energy/eV';
  
  
  const pl=mk('text',{x:p.x+33,y:p.rows[0]+62,'font-size':44},g);
  pl.textContent='('+p.id+')';
  
  
  const cy=(p.rows[0]+p.rows[4])/2;
  const yl=mk('text',{x:p.ylab,y:cy,'font-size':50,'text-anchor':'middle',transform:'rotate(-90 '+p.ylab+' '+cy+')',textLength:940,lengthAdjust:'spacing'},g);
  
  
  yl.innerHTML='Density of states/(states\u00b7eV<tspan dy="-18" font-size="34">\u22121</tspan><tspan dy="18">\u00b7atom</tspan><tspan dy="-18" font-size="34">\u22121</tspan><tspan dy="18">)</tspan>';
});
</script>
</body></html>
